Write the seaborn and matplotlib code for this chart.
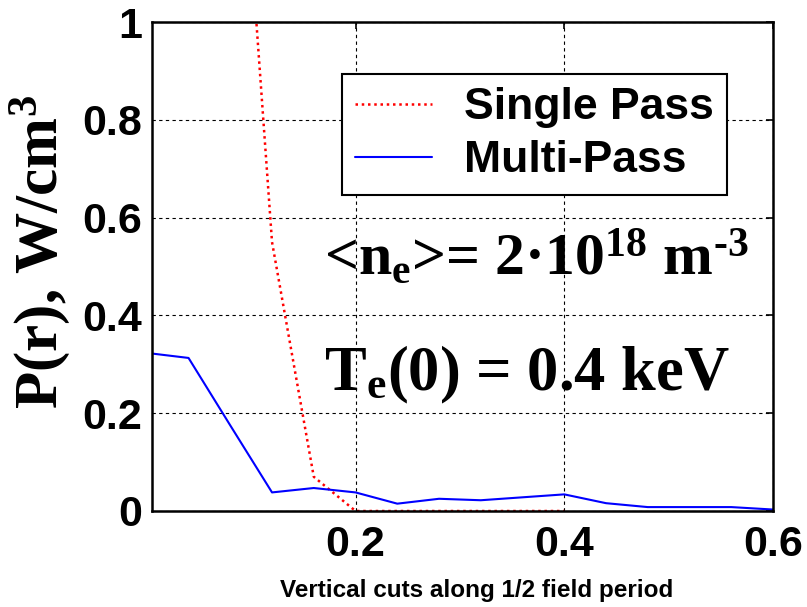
import matplotlib
matplotlib.use("Agg")
import matplotlib.pyplot as plt
import seaborn as sns
import pandas as pd

# values
multi_x = [0.005, 0.04, 0.08, 0.12, 0.16, 0.20, 0.24, 0.28, 0.32, 0.36, 0.40, 0.44, 0.48, 0.52, 0.56, 0.60]
multi_y = [0.322, 0.313, 0.175, 0.038, 0.047, 0.038, 0.015, 0.025, 0.022, 0.028, 0.034, 0.016, 0.008, 0.008, 0.008, 0.003]

single_x = [0.08, 0.12, 0.16, 0.20, 0.24, 0.28, 0.32, 0.36, 0.40]
single_y = [1.75, 0.55, 0.07, 0.0, 0.0, 0.0, 0.0, 0.0, 0.0]

x_ticks = [0.2, 0.4, 0.6]
y_ticks = [0, 0.2, 0.4, 0.6, 0.8, 1]
y_tick_labels = ["0", "0.2", "0.4", "0.6", "0.8", "1"]

sns.set_theme(style="white")
plt.rcParams["font.family"] = ["Liberation Sans", "DejaVu Sans"]
plt.rcParams["mathtext.default"] = "regular"
plt.rcParams["text.color"] = "black"
plt.rcParams["axes.labelcolor"] = "black"

df_multi = pd.DataFrame({"x": multi_x, "y": multi_y})
df_single = pd.DataFrame({"x": single_x, "y": single_y})

fig = plt.figure(figsize=(8.07, 6.07), dpi=100)
ax = fig.add_axes([152 / 807, 96 / 607, 621 / 807, 489 / 607])

sns.lineplot(data=df_single, x="x", y="y", ax=ax, color="#ff0000", lw=1.8,
             linestyle=(0, (1, 1.5)), estimator=None, label="Single Pass")
sns.lineplot(data=df_multi, x="x", y="y", ax=ax, color="#0000ff", lw=1.5,
             estimator=None, label="Multi-Pass")

ax.set_xlim(0.005, 0.6)
ax.set_ylim(0, 1)
ax.set_xticks(x_ticks)
ax.set_xticklabels([f"{t:g}" for t in x_ticks])
ax.set_yticks(y_ticks)
ax.set_yticklabels(y_tick_labels)

ax.grid(True, color="black", linestyle=(0, (3, 3)), linewidth=0.8)
for s in ax.spines.values():
    s.set_color("black")
    s.set_linewidth(1.8)
    s.set_visible(True)

ax.tick_params(direction="in", length=5, width=1.2, top=True, right=True,
               labelsize=31, colors="black")
ax.tick_params(axis="x", pad=10)
ax.tick_params(axis="y", pad=7)
for lbl in ax.get_xticklabels() + ax.get_yticklabels():
    lbl.set_fontweight("bold")

ax.set_xlabel("Vertical cuts along 1/2 field period", fontsize=17.5,
              fontweight="bold")
ax.xaxis.set_label_coords(0.522, -0.14)
ax.set_ylabel("P(r), W/cm$^3$", fontsize=44, fontweight="bold",
              family="Liberation Serif")
ax.yaxis.set_label_coords(-0.129, 0.53)

leg = ax.legend(loc="upper right", bbox_to_anchor=(0.926, 0.894), fontsize=32,
                frameon=True, fancybox=False, edgecolor="black", framealpha=1,
                handlelength=1.73, handletextpad=0.72, borderpad=0.3,
                labelspacing=0.27, borderaxespad=0)
leg.get_frame().set_linewidth(1.5)
for t in leg.get_texts():
    t.set_fontweight("bold")
    t.set_color("black")

ax.text(0.170, 0.483, "<n$_{e}$>= 2·10$^{18}$ m$^{\u2010 3}$", fontsize=43,
        fontweight="bold", family="Liberation Serif", va="baseline", ha="left")
ax.text(0.170, 0.247, "T$_{e}$(0) = 0.4 keV", fontsize=45,
        fontweight="bold", family="Liberation Serif", va="baseline", ha="left")

fig.savefig("out.png", dpi=100, facecolor="white")
